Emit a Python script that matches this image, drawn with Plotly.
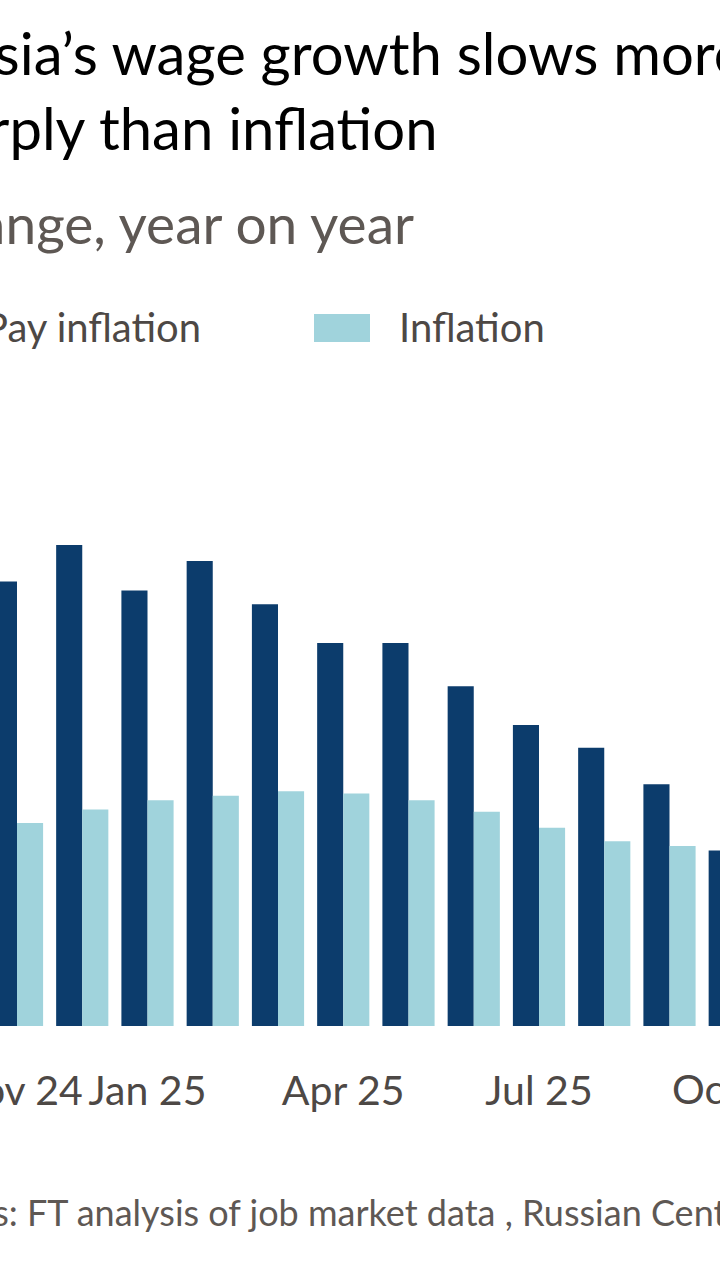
import plotly.graph_objects as go

months = ["Nov 24", "Dec 24", "Jan 25", "Feb 25", "Mar 25", "Apr 25",
          "May 25", "Jun 25", "Jul 25", "Aug 25", "Sep 25", "Oct 25"]
pay_inflation = [19.5, 21.1, 19.1, 20.4, 18.5, 16.8, 16.8, 14.9, 13.2, 12.2, 10.6, 7.7]
inflation = [8.9, 9.5, 9.9, 10.1, 10.3, 10.2, 9.9, 9.4, 8.7, 8.1, 7.9, 7.7]
tick_months = ["Nov 24", "Jan 25", "Apr 25", "Jul 25"]
edge_month = "Oct 25"   # label centre falls past the right edge of the crop

DARK = "#0c3c6c"
LIGHT = "#a0d3dc"
GREY = "#5e5854"
TICK_GREY = "#4d4845"
FONT = "Lato"
W, H = 720, 1280
SLOT = 65.25   # px per month
FIRST = 17     # px centre of the first month group


def px_x(x):
    return x / W


def px_y(y):
    return 1 - y / H


fig = go.Figure()
fig.add_trace(go.Bar(x=months, y=pay_inflation, name="Pay inflation",
                     marker_color=DARK, marker_line_width=0))
fig.add_trace(go.Bar(x=months, y=inflation, name="Inflation",
                     marker_color=LIGHT, marker_line_width=0))

fig.update_layout(
    width=W, height=H,
    margin=dict(l=0, r=0, t=0, b=0),
    paper_bgcolor="white", plot_bgcolor="white",
    barmode="group", bargap=0.2, bargroupgap=0,
    showlegend=False,
    font=dict(family=FONT, color=GREY),
)
x0 = -FIRST / SLOT
fig.update_xaxes(
    domain=[0, 1], range=[x0, x0 + W / SLOT],
    tickvals=tick_months, ticktext=tick_months,
    tickfont=dict(size=41, color=TICK_GREY, family=FONT),
    ticks="", ticklabelstandoff=37, ticklabeloverflow="allow",
    showgrid=False, showline=False, zeroline=False,
)
fig.update_yaxes(
    domain=[1 - 1026 / H, 1 - 526 / H], range=[0, 500 / 22.8],
    visible=False, showgrid=False, zeroline=False,
)
# the last tick sits outside the axis range, so it is written as a label
fig.add_annotation(text=edge_month, xref="paper", yref="paper",
                   x=px_x(FIRST + months.index(edge_month) * SLOT), y=px_y(1062),
                   xanchor="center", yanchor="top", showarrow=False,
                   font=dict(size=41, color=TICK_GREY, family=FONT))

# title + subtitle (cut off at the left like the reference crop)
fig.add_annotation(text="Russia’s wage growth slows more<br>sharply than inflation",
                   xref="paper", yref="paper", x=px_x(746), y=px_y(16),
                   xanchor="right", yanchor="top", align="left", showarrow=False,
                   font=dict(size=58, color="#000000", family=FONT))
fig.add_annotation(text="% change, year on year",
                   xref="paper", yref="paper", x=px_x(416), y=px_y(188),
                   xanchor="right", yanchor="top", showarrow=False,
                   font=dict(size=55, color=GREY, family=FONT))

# legend
fig.add_shape(type="rect", xref="paper", yref="paper",
              x0=px_x(-92), x1=px_x(-36), y0=px_y(342), y1=px_y(314),
              fillcolor=DARK, line_width=0)
fig.add_annotation(text="Pay inflation", xref="paper", yref="paper",
                   x=px_x(203), y=px_y(301), xanchor="right", yanchor="top",
                   showarrow=False, font=dict(size=40, color=TICK_GREY, family=FONT))
fig.add_shape(type="rect", xref="paper", yref="paper",
              x0=px_x(314), x1=px_x(370), y0=px_y(342), y1=px_y(314),
              fillcolor=LIGHT, line_width=0)
fig.add_annotation(text="Inflation", xref="paper", yref="paper",
                   x=px_x(397), y=px_y(301), xanchor="left", yanchor="top",
                   showarrow=False, font=dict(size=40, color=TICK_GREY, family=FONT))

# source
fig.add_annotation(text="Sources: FT analysis of job market data , Russian Central Bank",
                   xref="paper", yref="paper", x=px_x(-117), y=px_y(1188),
                   xanchor="left", yanchor="top", showarrow=False,
                   font=dict(size=36, color=GREY, family=FONT))

fig.write_html("out.html", config={"displayModeBar": False},
               post_script="document.body.style.margin='0';")
